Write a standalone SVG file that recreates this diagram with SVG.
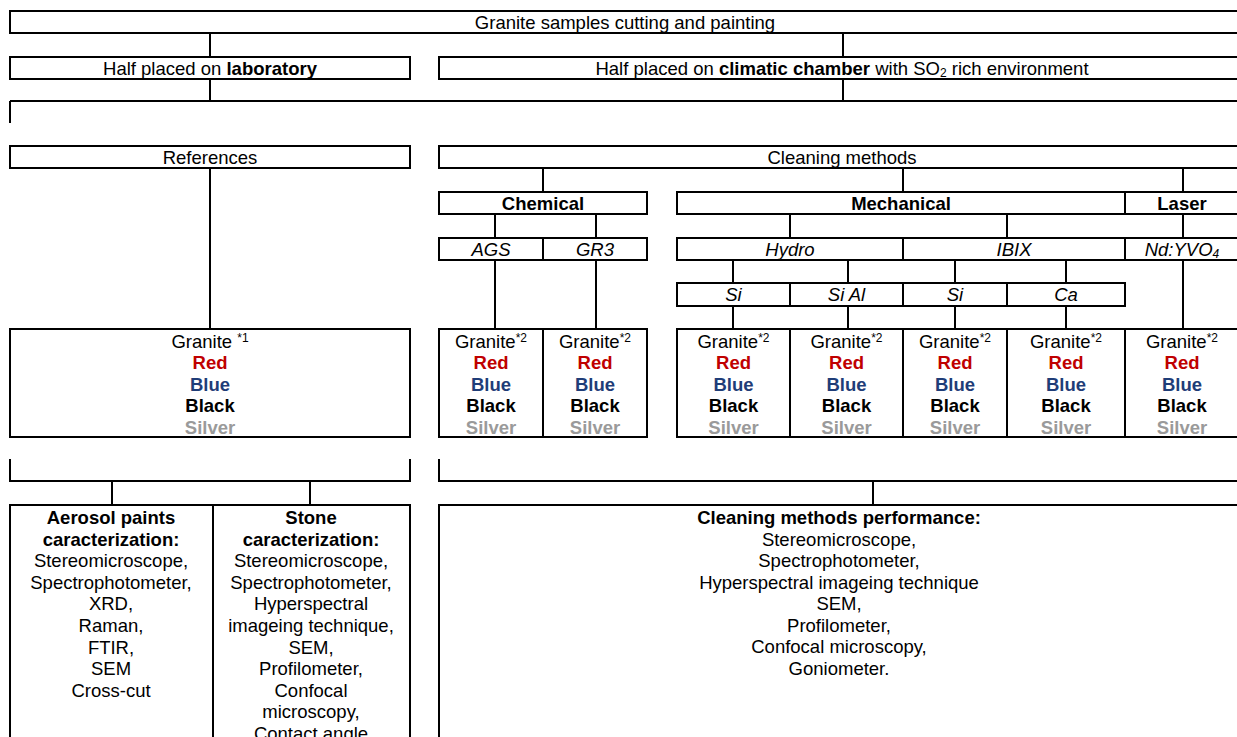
<svg xmlns="http://www.w3.org/2000/svg" width="1237" height="737" viewBox="0 0 1237 737">
<style>
.b{fill:#fff;stroke:#000;stroke-width:2}
.c{fill:none;stroke:#000;stroke-width:2}
text{font-family:"Liberation Sans",Arial,Helvetica,sans-serif;font-size:18.5px;text-anchor:middle;fill:#000}
.bo{font-weight:bold}
.it{font-style:italic}
.red{fill:#c00000;font-weight:bold}
.blue{fill:#1f3d78;font-weight:bold}
.blk{fill:#000;font-weight:bold}
.sil{fill:#9a9a9a;font-weight:bold}
.sup{font-size:12px}
</style>
<rect width="1237" height="737" fill="#fff"/>
<g id="connectors">
<path class="c" d="M210 33V57M843 33V57M210 79V101M843 79V101M10 101H1241M10 101V123"/>
<path class="c" d="M210 168V329M543 168V192M903 168V192M1183 168V192"/>
<path class="c" d="M495 214V238M596 214V238M790 214V238M1007 214V238M1183 214V238"/>
<path class="c" d="M495 260V329M596 260V329M1183 260V329M733 260V283M848 260V283M955 260V283M1066 260V283"/>
<path class="c" d="M733 306V329M848 306V329M955 306V329M1066 306V329"/>
<path class="c" d="M10 459V481H410V459M439 459V481H1241M112 481V505M310 481V505M873 481V505"/>
</g>
<g id="n_top"><rect class="b" x="10" y="11" width="1231" height="22"/><text x="625" y="29">Granite samples cutting and painting</text></g>
<g id="n_lab"><rect class="b" x="10" y="57" width="400" height="22"/><text x="210" y="75">Half placed on <tspan class="bo">laboratory</tspan></text></g>
<g id="n_clim"><rect class="b" x="439" y="57" width="802" height="22"/><text x="842" y="75">Half placed on <tspan class="bo">climatic chamber</tspan> with SO<tspan class="sup" dy="2">2</tspan><tspan dy="-2"> rich environment</tspan></text></g>
<g id="n_ref"><rect class="b" x="10" y="146" width="400" height="22"/><text x="210" y="164">References</text></g>
<g id="n_clean"><rect class="b" x="439" y="146" width="802" height="22"/><text x="842" y="164">Cleaning methods</text></g>
<g id="n_chem"><rect class="b" x="439" y="192" width="208" height="22"/><text class="bo" x="543" y="210">Chemical</text></g>
<g id="n_mech"><rect class="b" x="677" y="192" width="448" height="22"/><text class="bo" x="901" y="210">Mechanical</text></g>
<g id="n_laser"><rect class="b" x="1125" y="192" width="116" height="22"/><text class="bo" x="1182" y="210">Laser</text></g>
<g id="n_ags"><rect class="b" x="439" y="238" width="104" height="22"/><text class="it" x="491" y="256">AGS</text></g>
<g id="n_gr3"><rect class="b" x="543" y="238" width="104" height="22"/><text class="it" x="595" y="256">GR3</text></g>
<g id="n_hydro"><rect class="b" x="677" y="238" width="226" height="22"/><text class="it" x="790" y="256">Hydro</text></g>
<g id="n_ibix"><rect class="b" x="903" y="238" width="222" height="22"/><text class="it" x="1014" y="256">IBIX</text></g>
<g id="n_nd"><rect class="b" x="1125" y="238" width="116" height="22"/><text class="it" x="1182" y="256">Nd:YVO<tspan class="sup" dy="2">4</tspan></text></g>
<g id="n_si1"><rect class="b" x="677" y="283" width="113" height="23"/><text class="it" x="733.5" y="301">Si</text></g>
<g id="n_sial"><rect class="b" x="790" y="283" width="113" height="23"/><text class="it" x="846.5" y="301">Si Al</text></g>
<g id="n_si2"><rect class="b" x="903" y="283" width="104" height="23"/><text class="it" x="955" y="301">Si</text></g>
<g id="n_ca"><rect class="b" x="1007" y="283" width="118" height="23"/><text class="it" x="1066" y="301">Ca</text></g>
<g id="g_ref"><rect class="b" x="10" y="329" width="400" height="108"/>
<text x="210" y="348">Granite <tspan class="sup" dy="-6">*1</tspan></text>
<text class="red" x="210" y="369.4">Red</text><text class="blue" x="210" y="390.8">Blue</text><text class="blk" x="210" y="412.2">Black</text><text class="sil" x="210" y="433.6">Silver</text></g>
<g id="g_ags"><rect class="b" x="439" y="329" width="104" height="108"/>
<text x="491" y="348">Granite<tspan class="sup" dy="-6">*2</tspan></text>
<text class="red" x="491" y="369.4">Red</text><text class="blue" x="491" y="390.8">Blue</text><text class="blk" x="491" y="412.2">Black</text><text class="sil" x="491" y="433.6">Silver</text></g>
<g id="g_gr3"><rect class="b" x="543" y="329" width="104" height="108"/>
<text x="595" y="348">Granite<tspan class="sup" dy="-6">*2</tspan></text>
<text class="red" x="595" y="369.4">Red</text><text class="blue" x="595" y="390.8">Blue</text><text class="blk" x="595" y="412.2">Black</text><text class="sil" x="595" y="433.6">Silver</text></g>
<g id="g_si1"><rect class="b" x="677" y="329" width="113" height="108"/>
<text x="733.5" y="348">Granite<tspan class="sup" dy="-6">*2</tspan></text>
<text class="red" x="733.5" y="369.4">Red</text><text class="blue" x="733.5" y="390.8">Blue</text><text class="blk" x="733.5" y="412.2">Black</text><text class="sil" x="733.5" y="433.6">Silver</text></g>
<g id="g_sial"><rect class="b" x="790" y="329" width="113" height="108"/>
<text x="846.5" y="348">Granite<tspan class="sup" dy="-6">*2</tspan></text>
<text class="red" x="846.5" y="369.4">Red</text><text class="blue" x="846.5" y="390.8">Blue</text><text class="blk" x="846.5" y="412.2">Black</text><text class="sil" x="846.5" y="433.6">Silver</text></g>
<g id="g_si2"><rect class="b" x="903" y="329" width="104" height="108"/>
<text x="955" y="348">Granite<tspan class="sup" dy="-6">*2</tspan></text>
<text class="red" x="955" y="369.4">Red</text><text class="blue" x="955" y="390.8">Blue</text><text class="blk" x="955" y="412.2">Black</text><text class="sil" x="955" y="433.6">Silver</text></g>
<g id="g_ca"><rect class="b" x="1007" y="329" width="118" height="108"/>
<text x="1066" y="348">Granite<tspan class="sup" dy="-6">*2</tspan></text>
<text class="red" x="1066" y="369.4">Red</text><text class="blue" x="1066" y="390.8">Blue</text><text class="blk" x="1066" y="412.2">Black</text><text class="sil" x="1066" y="433.6">Silver</text></g>
<g id="g_nd"><rect class="b" x="1125" y="329" width="116" height="108"/>
<text x="1182" y="348">Granite<tspan class="sup" dy="-6">*2</tspan></text>
<text class="red" x="1182" y="369.4">Red</text><text class="blue" x="1182" y="390.8">Blue</text><text class="blk" x="1182" y="412.2">Black</text><text class="sil" x="1182" y="433.6">Silver</text></g>
<g id="b_aero"><rect class="b" x="10" y="505" width="203" height="245"/>
<text x="111" y="524" class="bo">Aerosol paints</text>
<text x="111" y="545.6" class="bo">caracterization:</text>
<text x="111" y="567.2">Stereomicroscope,</text>
<text x="111" y="588.8">Spectrophotometer,</text>
<text x="111" y="610.4">XRD,</text>
<text x="111" y="632">Raman,</text>
<text x="111" y="653.6">FTIR,</text>
<text x="111" y="675.2">SEM</text>
<text x="111" y="696.8">Cross-cut</text></g>
<g id="b_stone"><rect class="b" x="213" y="505" width="197" height="245"/>
<text x="311" y="524" class="bo">Stone</text>
<text x="311" y="545.6" class="bo">caracterization:</text>
<text x="311" y="567.2">Stereomicroscope,</text>
<text x="311" y="588.8">Spectrophotometer,</text>
<text x="311" y="610.4">Hyperspectral</text>
<text x="311" y="632">imageing technique,</text>
<text x="311" y="653.6">SEM,</text>
<text x="311" y="675.2">Profilometer,</text>
<text x="311" y="696.8">Confocal</text>
<text x="311" y="718.4">microscopy,</text>
<text x="311" y="740">Contact angle</text></g>
<g id="b_perf"><rect class="b" x="439" y="505" width="802" height="245"/>
<text x="839" y="524" class="bo">Cleaning methods performance:</text>
<text x="839" y="545.5">Stereomicroscope,</text>
<text x="839" y="567">Spectrophotometer,</text>
<text x="839" y="588.5">Hyperspectral imageing technique</text>
<text x="839" y="610">SEM,</text>
<text x="839" y="631.5">Profilometer,</text>
<text x="839" y="653">Confocal microscopy,</text>
<text x="839" y="674.5">Goniometer.</text></g>
</svg>
